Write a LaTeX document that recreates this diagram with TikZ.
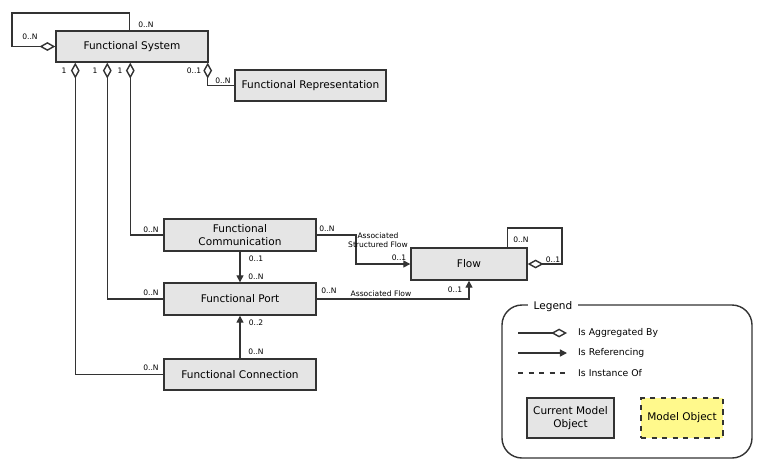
\documentclass[tikz,border=0pt]{standalone}
\usepackage{fontspec}
\setmainfont{DejaVu Sans}
\usetikzlibrary{arrows.meta,positioning,calc}
\tikzset{class node/.style={rectangle, draw=black!80, fill=black!10, thick,
    inner sep=1pt, align=center, font=\fontsize{6}{7}\selectfont}}
\tikzset{object node/.style={class node, fill=yellow!45, dashed}}
\tikzset{agg edge/.style={draw=black!80, thick, {Diamond[open,length=9pt,width=5pt]}-}}
\tikzset{ref edge/.style={draw=black!80, thick, -{Triangle[length=4pt,width=4pt]}}}
\tikzset{mult/.style={font=\fontsize{4.3}{5}\selectfont, inner sep=0.5pt}}
\begin{document}
\begin{tikzpicture}[x=0.02cm, y=-0.02cm]
      \useasboundingbox (0,0) rectangle (771,471);

      % classes
      \node [class node, minimum width=152*0.02cm, minimum height=31*0.02cm] (fs)   at (132,46.5)  {Functional System};
      \node [class node, minimum width=151*0.02cm, minimum height=31*0.02cm] (frep) at (310.5,85.5) {Functional Representation};
      \node [class node, minimum width=152*0.02cm, minimum height=32*0.02cm] (fcom) at (240,235)   {Functional\\Communication};
      \node [class node, minimum width=152*0.02cm, minimum height=32*0.02cm] (fport) at (240,299)  {Functional Port};
      \node [class node, minimum width=152*0.02cm, minimum height=31*0.02cm] (fcon) at (240,374.5) {Functional Connection};
      \node [class node, minimum width=116*0.02cm, minimum height=32*0.02cm] (flow) at (469,264)   {Flow};

      % aggregation
      \coordinate (fsloop) at (12,13);
      \draw [agg edge] (fs.west) -| (fsloop) -| ($(fs.north west)+(74,0)$);
      \draw [agg edge] ($(fs.south west)+(20,0)$) |- (fcon.west);
      \draw [agg edge] ($(fs.south west)+(52,0)$) |- (fport.west);
      \draw [agg edge] ($(fs.south west)+(75,0)$) |- (fcom.west);
      \draw [agg edge] ($(fs.south east)+(-1,0)$) |- (frep.west);
      \coordinate (flowloop) at (562,228);
      \draw [agg edge] (flow.east) -| (flowloop) -| ($(flow.north west)+(97,0)$);

      % references
      \draw [ref edge] (fcom.south) -- (fport.north);
      \draw [ref edge] (fcon.north) -- (fport.south);
      \draw [ref edge] (fcom.east) -| (356,264) -- (flow.west);
      \draw [ref edge] (fport.east) -| (flow.south);

      % multiplicities
      \node [mult] at (30,37)   {0..N};
      \node [mult] at (146,25)  {0..N};
      \node [mult] at (64,71)   {1};
      \node [mult] at (95,71)   {1};
      \node [mult] at (120,71)  {1};
      \node [mult] at (194,71)  {0..1};
      \node [mult] at (223,81)  {0..N};
      \node [mult] at (151,230) {0..N};
      \node [mult] at (151,293) {0..N};
      \node [mult] at (151,368) {0..N};
      \node [mult] at (256,259) {0..1};
      \node [mult] at (256,277) {0..N};
      \node [mult] at (256,323) {0..2};
      \node [mult] at (256,352) {0..N};
      \node [mult] at (327,229) {0..N};
      \node [mult, align=center] at (378,240) {Associated\\Structured Flow};
      \node [mult] at (399,258) {0..1};
      \node [mult] at (329,291) {0..N};
      \node [mult] at (381,294) {Associated Flow};
      \node [mult] at (455,290) {0..1};
      \node [mult] at (521,240) {0..N};
      \node [mult] at (553,260) {0..1};

      % legend
      \draw [black!80, thick, rounded corners=20*0.02cm] (502,305) rectangle (752,458);
      \node [fill=white, font=\fontsize{6}{7}\selectfont] (legend) at (553,307) {Legend};
      \coordinate (la) at (518,333);
      \draw [agg edge] (567,333) -- (la);
      \node [mult, font=\fontsize{5.3}{6}\selectfont, anchor=west] at (577,333) {Is Aggregated By};
      \coordinate (lr) at (518,353);
      \draw [ref edge] (lr) -- (567,353);
      \node [mult, font=\fontsize{5.3}{6}\selectfont, anchor=west] at (577,353) {Is Referencing};
      \coordinate (li) at (518,373);
      \draw [thick, dashed, black!80] (li) -- (567,373);
      \node [mult, font=\fontsize{5.3}{6}\selectfont, anchor=west] at (577,373) {Is Instance Of};
      \node [class node, minimum width=87*0.02cm, minimum height=40*0.02cm] (cur) at (570.5,418) {Current Model\\Object};
      \node [object node, minimum width=82*0.02cm, minimum height=40*0.02cm] (obj) at (682,418) {Model Object};
    \end{tikzpicture}
\end{document}
